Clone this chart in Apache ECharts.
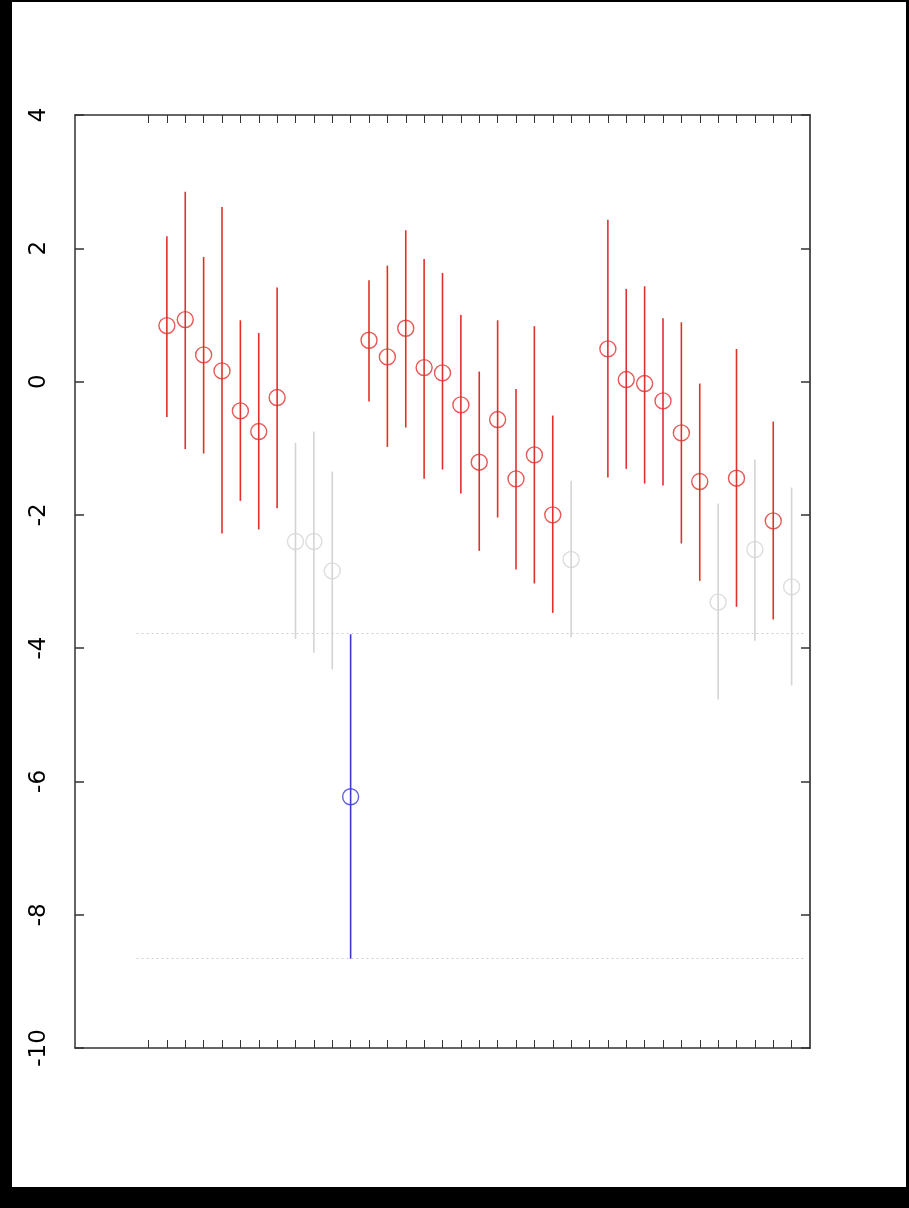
<!DOCTYPE html>
<html lang="en">
<head>
    <meta charset="UTF-8">
    <title>error bars</title>
    <style>
        html, body { margin: 0; padding: 0; background: #000; }
        #chart { position: absolute; left: 12px; top: 2px; width: 894px; height: 1185px; background: #fff; }
    </style>
</head>
<body>
    <div id="chart"></div>
    <script src="https://cdn.jsdelivr.net/npm/echarts@6/dist/echarts.min.js"></script>
    <script>

        // position on x, estimate, lower and upper ends of each bar, and its group
        var xPos  = [1, 2, 3, 4, 5, 6, 7, 8, 9, 10, 11, 12, 13, 14, 15, 16, 17, 18, 19, 20, 21, 22, 23,
                     25, 26, 27, 28, 29, 30, 31, 32, 33, 34, 35];
        var est   = [0.84, 0.93, 0.40, 0.16, -0.44, -0.75, -0.24, -2.40, -2.40, -2.84, -6.23,
                     0.62, 0.37, 0.80, 0.21, 0.13, -0.35, -1.21, -0.57, -1.46, -1.10, -2.00, -2.67,
                     0.49, 0.03, -0.03, -0.29, -0.77, -1.50, -3.31, -1.45, -2.52, -2.09, -3.08];
        var lower = [-0.53, -1.01, -1.08, -2.28, -1.79, -2.22, -1.90, -3.86, -4.07, -4.32, -8.66,
                     -0.30, -0.98, -0.69, -1.46, -1.32, -1.68, -2.54, -2.04, -2.82, -3.03, -3.47, -3.84,
                     -1.44, -1.31, -1.53, -1.56, -2.43, -2.99, -4.77, -3.38, -3.89, -3.57, -4.56];
        var upper = [2.18, 2.85, 1.87, 2.62, 0.92, 0.73, 1.41, -0.92, -0.75, -1.35, -3.79,
                     1.52, 1.74, 2.27, 1.84, 1.63, 1.00, 0.15, 0.92, -0.11, 0.83, -0.51, -1.49,
                     2.43, 1.39, 1.43, 0.95, 0.89, -0.03, -1.83, 0.49, -1.17, -0.60, -1.59];
        var group = ['r', 'r', 'r', 'r', 'r', 'r', 'r', 'g', 'g', 'g', 'b',
                     'r', 'r', 'r', 'r', 'r', 'r', 'r', 'r', 'r', 'r', 'r', 'g',
                     'r', 'r', 'r', 'r', 'r', 'r', 'g', 'r', 'g', 'r', 'g'];

        var xTicks = [];
        for (var t = 0; t <= 35; t++) xTicks.push(t);
        var yTicks = [4, 2, 0, -2, -4, -6, -8, -10];
        var refLines = [-3.78, -8.66];

        var colors = { r: '#e0302c', g: '#d4d4d4', b: '#3a3ad0' };

        function renderBar(params, api) {
            var a = api.coord([api.value(0), api.value(1)]);
            var b = api.coord([api.value(0), api.value(2)]);
            return {
                type: 'line',
                shape: { x1: a[0], y1: a[1], x2: b[0], y2: b[1] },
                style: { stroke: api.visual('color'), lineWidth: 1.6 }
            };
        }

        var series = [];
        ['g', 'r', 'b'].forEach(function (g) {
            var bars = [], pts = [];
            for (var i = 0; i < xPos.length; i++) {
                if (group[i] !== g) continue;
                bars.push([xPos[i], lower[i], upper[i]]);
                pts.push([xPos[i], est[i]]);
            }
            series.push({
                type: 'custom',
                renderItem: renderBar,
                itemStyle: { color: colors[g] },
                encode: { x: 0, y: [1, 2] },
                data: bars,
                silent: true,
                z: 2
            });
            series.push({
                type: 'scatter',
                symbol: 'circle',
                symbolSize: 16,
                itemStyle: { color: 'rgba(0,0,0,0)', borderColor: colors[g], borderWidth: 1.4 },
                data: pts,
                silent: true,
                z: 3
            });
        });

        // dotted lines at the ends of the blue bar
        series.push({
            type: 'line',
            data: [],
            silent: true,
            markLine: {
                symbol: 'none',
                silent: true,
                label: { show: false },
                lineStyle: { color: '#cfcfcf', type: [2, 3], width: 1 },
                data: refLines.map(function (v) {
                    return [{ coord: [-0.65, v] }, { coord: [35.7, v] }];
                })
            }
        });

        function xAxisOpt(pos) {
            return {
                type: 'value',
                position: pos,
                min: -4,
                max: 36,
                axisLine: { show: true, onZero: false, lineStyle: { color: '#333', width: 1.5 } },
                axisTick: { show: true, inside: true, length: 8, customValues: xTicks, lineStyle: { color: '#333', width: 1 } },
                axisLabel: { show: false },
                splitLine: { show: false }
            };
        }

        function yAxisOpt(pos, labels) {
            return {
                type: 'value',
                position: pos,
                min: -10,
                max: 4,
                interval: 2,
                axisLine: {
                    show: true,
                    onZero: false,
                    lineStyle: { color: pos === 'left' ? '#333' : '#555', width: pos === 'left' ? 1.5 : 2 }
                },
                axisTick: { show: true, inside: true, length: 9, lineStyle: { color: '#333', width: 1.5 } },
                axisLabel: {
                    show: labels,
                    rotate: 90,
                    margin: 24,
                    color: '#000',
                    fontFamily: 'DejaVu Sans',
                    fontSize: 23,
                    customValues: yTicks
                },
                splitLine: { show: false }
            };
        }

        var chart = echarts.init(document.getElementById('chart'));
        chart.setOption({
            animation: false,
            backgroundColor: '#fff',
            grid: { left: 63, top: 113, width: 735, height: 933 },
            xAxis: [xAxisOpt('bottom'), xAxisOpt('top')],
            yAxis: [yAxisOpt('left', true), yAxisOpt('right', false)],
            series: series
        });

    </script>
</body>
</html>
